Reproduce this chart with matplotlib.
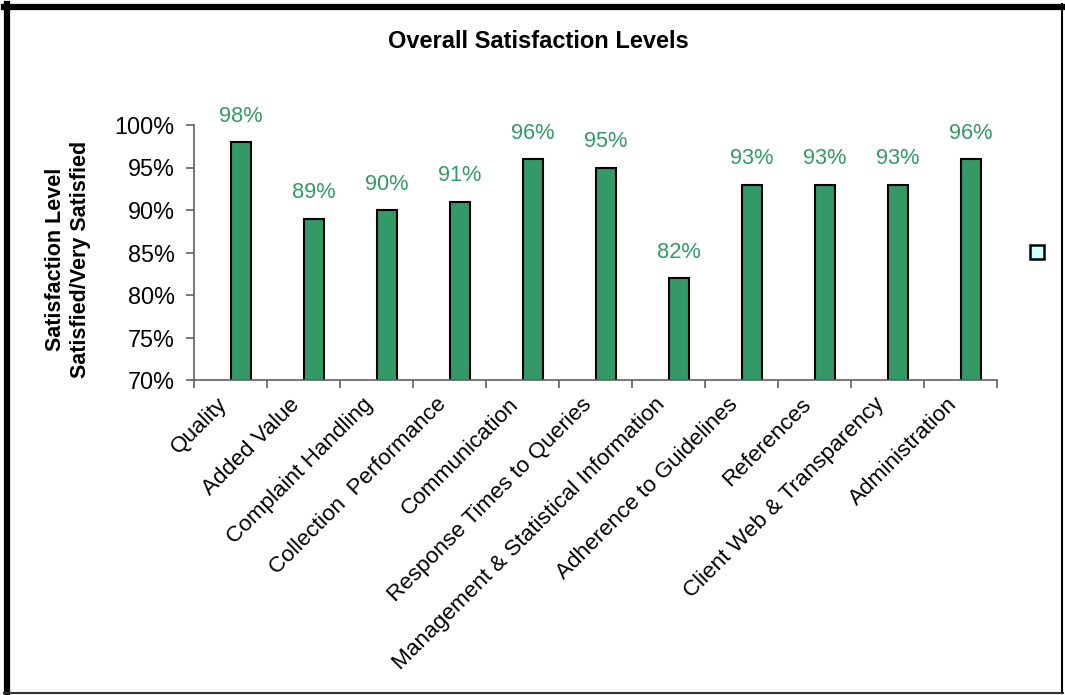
import matplotlib.pyplot as plt
import numpy as np
from matplotlib.patches import Patch
from matplotlib.lines import Line2D
from matplotlib.transforms import ScaledTranslation

plt.rcParams['font.family'] = ['Liberation Sans', 'DejaVu Sans']

categories = ['Quality', 'Added Value', 'Complaint Handling', 'Collection  Performance',
              'Communication', 'Response Times to Queries',
              'Management & Statistical Information', 'Adherence to Guidelines',
              'References', 'Client Web & Transparency', 'Administration']
satisfied = [0.98, 0.89, 0.90, 0.91, 0.96, 0.95, 0.82, 0.93, 0.93, 0.93, 0.96]
y_ticks = [0.70, 0.75, 0.80, 0.85, 0.90, 0.95, 1.00]

green = '#339966'

fig = plt.figure(figsize=(10.65, 6.95), dpi=100)
ax = fig.add_axes([194/1065, 1 - 380/695, (997 - 194)/1065, (380 - 125)/695])

x = np.arange(len(categories))
bw = 0.285
ax.bar(x, satisfied, width=bw, align='edge', color=green, edgecolor='black', linewidth=1.5)
for xi, v in zip(x, satisfied):
    ax.text(xi + bw/2, v + 0.018, f'{v:.0%}', ha='center', va='bottom', fontsize=15.7, color=green)

ax.set_ylim(0.70, 1.00)
ax.set_xlim(-0.5, len(categories) - 0.5)
ax.set_yticks(y_ticks)
ax.set_yticklabels([f'{t:.0%}' for t in y_ticks], fontsize=16.8)
ax.set_xticks(np.arange(len(categories) + 1) - 0.5)
ax.set_xticklabels([])
ax.set_xticks(x, minor=True)
ax.set_xticklabels(categories, minor=True, rotation=45, ha='right', rotation_mode='anchor', fontsize=16.2)
ax.tick_params(axis='x', which='minor', length=0, pad=10)
ax.tick_params(axis='both', which='major', length=6, width=1.2, color='#606060')
ax.tick_params(axis='y', pad=8)
shift = ScaledTranslation(-14/100, 0, fig.dpi_scale_trans)
for lab in ax.get_xticklabels(minor=True):
    lab.set_transform(lab.get_transform() + shift)
for s in ['top', 'right']:
    ax.spines[s].set_visible(False)
for s in ['left', 'bottom']:
    ax.spines[s].set_color('#606060')
    ax.spines[s].set_linewidth(1.2)

fig.text(538/1065, 1 - 42/695, 'Overall Satisfaction Levels', ha='center', va='center',
         fontsize=17, fontweight='bold')
fig.text(68/1065, 1 - 259/695, 'Satisfaction Level\nSatisfied/Very Satisfied', rotation=90,
         ha='center', va='center', fontsize=15.5, fontweight='bold', linespacing=1.2)

# empty second series marker
fig.legend(handles=[Patch(facecolor='#CCFFFF', edgecolor='black', linewidth=1.8)], labels=[''],
           loc='center', bbox_to_anchor=(1037/1065, 1 - 254/695), frameon=False,
           handlelength=0.75, handleheight=0.75, handletextpad=0, fontsize=14)

# frame around chart
fig.add_artist(Line2D([4/1065, 1063/1065], [1 - 7/695, 1 - 7/695], color='black', linewidth=4.5))
fig.add_artist(Line2D([7/1065, 7/1065], [1 - 4/695, 2/695], color='black', linewidth=4.5))
fig.add_artist(Line2D([1062/1065, 1062/1065], [1 - 4/695, 2/695], color='black', linewidth=1.5))
fig.add_artist(Line2D([4/1065, 1063/1065], [2/695, 2/695], color='#333333', linewidth=1.5))

fig.savefig('out.png', dpi=100)
